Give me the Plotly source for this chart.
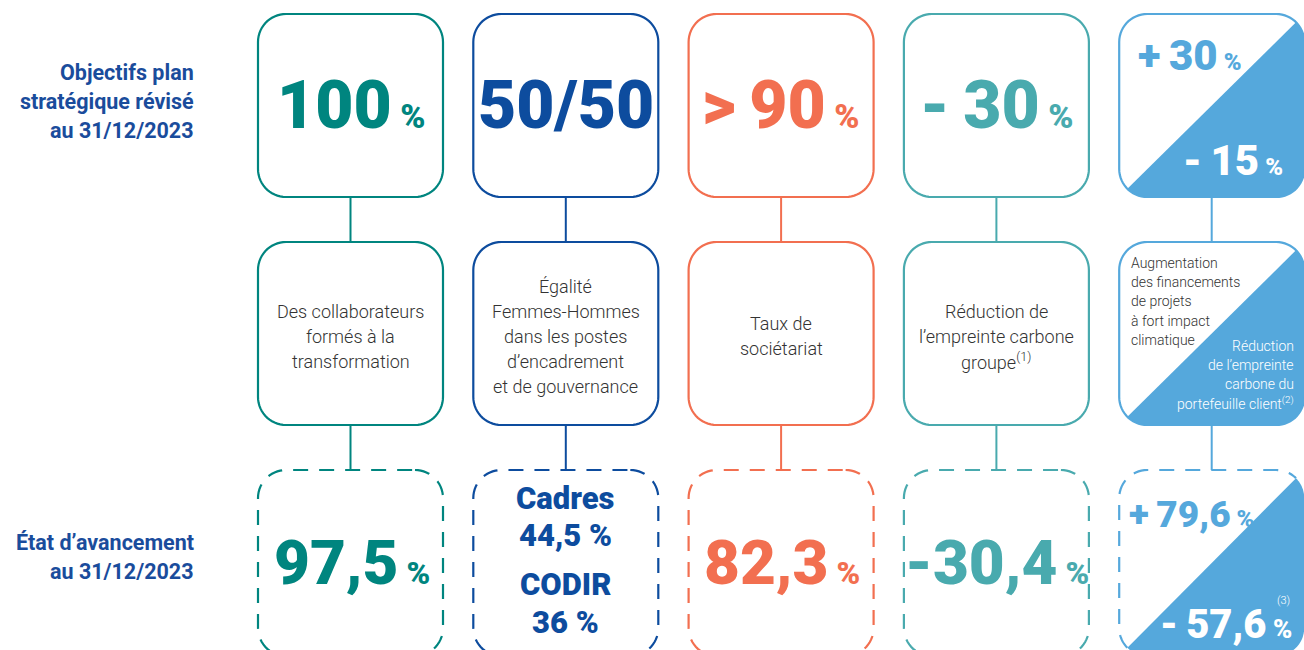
import numpy as np
import plotly.graph_objects as go

W, H = 1304, 650

# ---------------- content ----------------
row_titles_top = ["Objectifs plan", "stratégique révisé", "au 31/12/2023"]
row_titles_bottom = ["État d’avancement", "au 31/12/2023"]

colors = ["#00857F", "#0D4C9E", "#F26F50", "#49AAAE", "#55A8DC"]

target_main = ["100", "50/50", ">&#8201;90", "-&#8201;30"]
target_unit = ["%", "", "%", "%"]
target5_up = "+&#8201;30"
target5_down = "-&#8201;15"

descriptions = [
    ["Des collaborateurs", "formés à la", "transformation"],
    ["Égalité", "Femmes-Hommes", "dans les postes", "d’encadrement", "et de gouvernance"],
    ["Taux de", "sociétariat"],
    ["Réduction de", "l’empreinte carbone", "groupe<sup>(1)</sup>"],
]
desc5_left = ["Augmentation", "des financements", "de projets", "à fort impact", "climatique"]
desc5_right = ["Réduction", "de l’empreinte", "carbone du", "portefeuille client<sup>(2)</sup>"]

achieved_main = ["97,5", None, "82,3", "-30,4"]
achieved_unit = ["%", None, "%", "%"]
parity_lines = ["Cadres", "44,5 %", "CODIR", "36 %"]
achieved5_up = "+&#8201;79,6"
achieved5_down = "-&#8201;57,6"
achieved5_note = "(3)"

# ---------------- layout constants ----------------
BOX_X0, PITCH, BOX_W = 258, 215.3, 185
ROWS = [(14, 197), (242, 425), (470, 656)]
RAD = 28
NUM_FONT = "Roboto"
BODY_FONT = "Roboto"
TITLE_COLOR = "#1A4C9C"
BODY_COLOR = "#333333"
DASH = "15px,11px"


def arc(cx, cy, r, a0, a1, n=16):
    t = np.radians(np.linspace(a0, a1, n))
    return list(zip(cx + r * np.cos(t), cy + r * np.sin(t)))


def rr_points(x0, y0, x1, y1, r):
    pts = []
    pts += arc(x1 - r, y0 + r, r, -90, 0)
    pts += arc(x1 - r, y1 - r, r, 0, 90)
    pts += arc(x0 + r, y1 - r, r, 90, 180)
    pts += arc(x0 + r, y0 + r, r, 180, 270)
    return pts


def to_path(pts, close=True):
    s = "M " + " L ".join(f"{x:.2f},{y:.2f}" for x, y in pts)
    return s + (" Z" if close else "")


def lower_half(x0, y0, x1, y1, r):
    pts = []
    pts += arc(x1 - r, y0 + r, r, -45, 0)
    pts += arc(x1 - r, y1 - r, r, 0, 90)
    pts += arc(x0 + r, y1 - r, r, 90, 135)
    return pts


def upper_half(x0, y0, x1, y1, r):
    pts = []
    pts += arc(x0 + r, y1 - r, r, 135, 180)
    pts += arc(x0 + r, y0 + r, r, 180, 270)
    pts += arc(x1 - r, y0 + r, r, 270, 315)
    return pts


shapes = []
annotations = []


def ann(x, y, text, size, color, weight=400, xanchor="center", family=NUM_FONT, yanchor="middle"):
    annotations.append(dict(
        x=x, y=y, xref="x", yref="y", text=text, showarrow=False,
        xanchor=xanchor, yanchor=yanchor, align=xanchor if xanchor != "center" else "center",
        font=dict(family=family, size=size, color=color, weight=weight),
    ))


def pct(size):
    return f"<span style='font-size:{size}px'> %</span>"


for i in range(5):
    x0 = BOX_X0 + i * PITCH
    x1 = x0 + BOX_W
    cx = (x0 + x1) / 2
    col = colors[i]
    # connectors
    for (a, b) in [(ROWS[0][1], ROWS[1][0]), (ROWS[1][1], ROWS[2][0])]:
        shapes.append(dict(type="line", xref="x", yref="y", x0=cx, x1=cx, y0=a, y1=b,
                           line=dict(color=col, width=2)))
    for r_idx, (y0, y1) in enumerate(ROWS):
        if i == 4:
            shapes.append(dict(type="path", xref="x", yref="y",
                               path=to_path(lower_half(x0, y0, x1, y1, RAD)),
                               fillcolor=col, line=dict(width=0)))
            if r_idx < 2:
                shapes.append(dict(type="path", xref="x", yref="y",
                                   path=to_path(rr_points(x0, y0, x1, y1, RAD)),
                                   line=dict(color=col, width=2.2)))
            else:
                shapes.append(dict(type="path", xref="x", yref="y",
                                   path=to_path(upper_half(x0, y0, x1, y1, RAD), close=False),
                                   line=dict(color=col, width=2.2, dash=DASH)))
        else:
            shapes.append(dict(type="path", xref="x", yref="y",
                               path=to_path(rr_points(x0, y0, x1, y1, RAD)),
                               line=dict(color=col, width=2.2,
                                         dash=DASH if r_idx == 2 else "solid")))

    # ---- top row texts ----
    if i < 4:
        unit = pct(34) if target_unit[i] else ""
        ann(cx, 105, target_main[i] + unit, 66, col, 900)
    else:
        ann(x0 + 17, 55, target5_up + pct(24), 42, col, 900, xanchor="left")
        ann(x1 - 19, 160, target5_down + pct(24), 42, "white", 900, xanchor="right")

    # ---- middle row texts ----
    if i < 4:
        lines = descriptions[i]
        n = len(lines)
        for k, t in enumerate(lines):
            ann(cx, 336 + (k - (n - 1) / 2) * 25, t, 18, BODY_COLOR, 300, family=BODY_FONT)
    else:
        for k, t in enumerate(desc5_left):
            ann(x0 + 10, 263 + k * 19.2, t, 14, BODY_COLOR, 300, xanchor="left", family=BODY_FONT)
        for k, t in enumerate(desc5_right):
            ann(x1 - 8, 346 + k * 19, t, 14, "white", 300, xanchor="right", family=BODY_FONT)

    # ---- bottom row texts ----
    if i == 1:
        for t, y in zip(parity_lines, [498, 535, 584, 622]):
            ann(cx, y, t, 31, col, 900)
    elif i < 4:
        ann(cx + 1, 562, achieved_main[i] + pct(32), 62, col, 900)
    else:
        ann(x0 + 8, 514, achieved5_up + pct(24), 37, col, 900, xanchor="left")
        ann(x1 - 10, 624, achieved5_down + pct(26), 40, "white", 900, xanchor="right")
        ann(x1 - 21, 600, achieved5_note, 11, "white", 300, family=BODY_FONT)

# ---- row titles ----
for k, t in enumerate(row_titles_top):
    ann(196, 72 + k * 29, t, 21.5, TITLE_COLOR, 700, xanchor="right")
for k, t in enumerate(row_titles_bottom):
    ann(196, 542 + k * 29, t, 21.5, TITLE_COLOR, 700, xanchor="right")

fig = go.Figure()
fig.update_layout(
    width=W, height=H,
    margin=dict(l=0, r=0, t=0, b=0),
    paper_bgcolor="white", plot_bgcolor="white",
    xaxis=dict(range=[0, W], visible=False, fixedrange=True),
    yaxis=dict(range=[H, 0], visible=False, fixedrange=True),
    shapes=shapes,
    annotations=annotations,
    showlegend=False,
)

fig.write_html("out.html", config={"displayModeBar": False},
               post_script="document.body.style.margin='0';")
